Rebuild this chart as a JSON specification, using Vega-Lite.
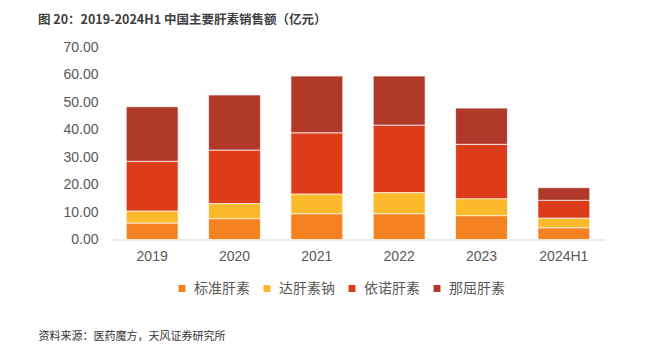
{
  "$schema": "https://vega.github.io/schema/vega-lite/v6.json",
  "autosize": {"type": "none"},
  "width": 494,
  "height": 192,
  "padding": {"left": 111, "top": 47.5, "right": 55, "bottom": 105.5},
  "background": "white",
  "title": {
    "text": "图 20：2019-2024H1 中国主要肝素销售额（亿元）",
    "anchor": "start",
    "frame": "group",
    "dx": -73,
    "dy": -10,
    "font": "Noto Sans CJK SC",
    "fontSize": 12.5,
    "fontWeight": "bold",
    "color": "#404040"
  },
  "data": {
    "values": [
      {"year": "2019", "type": "标准肝素", "k": 1, "value": 6.0},
      {"year": "2019", "type": "达肝素钠", "k": 2, "value": 4.4},
      {"year": "2019", "type": "依诺肝素", "k": 3, "value": 18.1},
      {"year": "2019", "type": "那屈肝素", "k": 4, "value": 19.9},
      {"year": "2020", "type": "标准肝素", "k": 1, "value": 7.6},
      {"year": "2020", "type": "达肝素钠", "k": 2, "value": 5.5},
      {"year": "2020", "type": "依诺肝素", "k": 3, "value": 19.5},
      {"year": "2020", "type": "那屈肝素", "k": 4, "value": 20.1},
      {"year": "2021", "type": "标准肝素", "k": 1, "value": 9.4},
      {"year": "2021", "type": "达肝素钠", "k": 2, "value": 7.2},
      {"year": "2021", "type": "依诺肝素", "k": 3, "value": 22.3},
      {"year": "2021", "type": "那屈肝素", "k": 4, "value": 20.7},
      {"year": "2022", "type": "标准肝素", "k": 1, "value": 9.4},
      {"year": "2022", "type": "达肝素钠", "k": 2, "value": 7.7},
      {"year": "2022", "type": "依诺肝素", "k": 3, "value": 24.6},
      {"year": "2022", "type": "那屈肝素", "k": 4, "value": 17.9},
      {"year": "2023", "type": "标准肝素", "k": 1, "value": 8.7},
      {"year": "2023", "type": "达肝素钠", "k": 2, "value": 6.2},
      {"year": "2023", "type": "依诺肝素", "k": 3, "value": 19.8},
      {"year": "2023", "type": "那屈肝素", "k": 4, "value": 13.2},
      {"year": "2024H1", "type": "标准肝素", "k": 1, "value": 4.3},
      {"year": "2024H1", "type": "达肝素钠", "k": 2, "value": 3.5},
      {"year": "2024H1", "type": "依诺肝素", "k": 3, "value": 6.5},
      {"year": "2024H1", "type": "那屈肝素", "k": 4, "value": 4.6}
    ]
  },
  "mark": {"type": "bar", "stroke": "white", "strokeWidth": 0.7},
  "encoding": {
    "x": {
      "field": "year",
      "type": "nominal",
      "sort": null,
      "scale": {"paddingInner": 0.37, "paddingOuter": 0.185},
      "axis": {
        "labelAngle": 0,
        "labelFont": "Liberation Sans",
        "labelFontSize": 14,
        "labelColor": "#595959",
        "labelPadding": 10,
        "ticks": false,
        "domainColor": "#d9d9d9",
        "domainWidth": 1,
        "title": "资料来源：医药魔方，天风证券研究所",
        "titleFont": "Noto Sans CJK SC",
        "titleFontSize": 11,
        "titleFontWeight": "normal",
        "titleColor": "#333333",
        "titleAlign": "left",
        "titleBaseline": "middle",
        "titleAnchor": "start",
        "titleX": -73,
        "titleY": 97
      }
    },
    "y": {
      "field": "value",
      "type": "quantitative",
      "stack": "zero",
      "scale": {"domain": [0, 70], "nice": false},
      "axis": {
        "values": [0, 10, 20, 30, 40, 50, 60, 70],
        "format": ".2f",
        "grid": false,
        "domain": false,
        "ticks": false,
        "labelFont": "Liberation Sans",
        "labelFontSize": 14,
        "labelColor": "#595959",
        "labelPadding": 13,
        "title": null
      }
    },
    "order": {"field": "k", "type": "quantitative", "sort": "ascending"},
    "color": {
      "field": "type",
      "type": "nominal",
      "sort": ["标准肝素", "达肝素钠", "依诺肝素", "那屈肝素"],
      "scale": {
        "domain": ["标准肝素", "达肝素钠", "依诺肝素", "那屈肝素"],
        "range": ["#F58220", "#FBBA2B", "#DD3C1B", "#B0392A"]
      },
      "legend": {
        "orient": "none",
        "direction": "horizontal",
        "legendX": 64,
        "legendY": 234,
        "title": null,
        "symbolType": "square",
        "symbolSize": 49,
        "symbolStrokeWidth": 0,
        "labelFont": "Noto Sans CJK SC",
        "labelFontSize": 14,
        "labelColor": "#595959",
        "labelOffset": 5,
        "columnPadding": 10
      }
    }
  },
  "config": {"view": {"stroke": null}}
}
